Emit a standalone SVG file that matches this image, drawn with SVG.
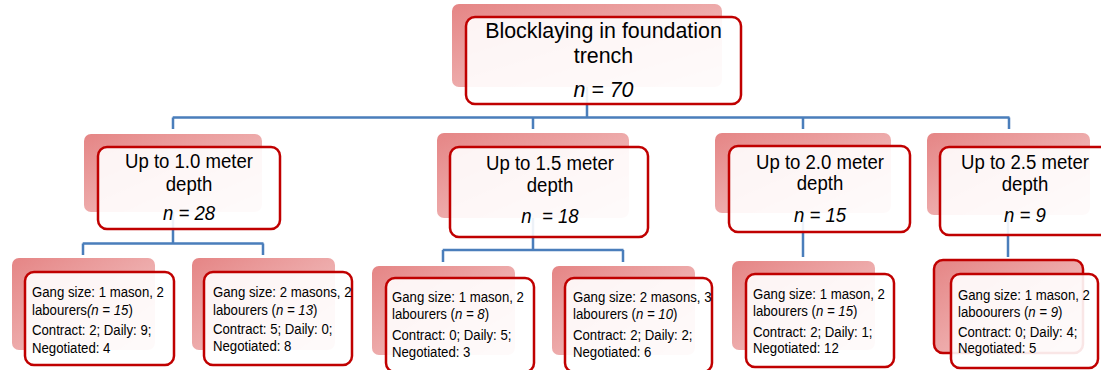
<svg xmlns="http://www.w3.org/2000/svg" width="1101" height="370" viewBox="0 0 1101 370">
  <defs>
    <linearGradient id="sh" x1="0" y1="0" x2="1" y2="1">
      <stop offset="0" stop-color="#E58585"/>
      <stop offset="1" stop-color="#F5CECE"/>
    </linearGradient>
  </defs>
  <style>
    .shadow { fill: url(#sh); }
    .front { fill: #FFFFFF; fill-opacity: 0.9; stroke: #C00000; stroke-width: 2.5; }
    .backred { fill: url(#sh); stroke: #C00000; stroke-width: 2.5; }
    .conn { fill: none; stroke: #4A7EBB; stroke-width: 2.5; }
    text { font-family: "Liberation Sans", Arial, sans-serif; fill: #000000; }
    .t1 { font-size: 21.4px; text-anchor: middle; }
    .t2 { font-size: 21px; text-anchor: middle; }
    .t3 { font-size: 15px; }
    .it { font-style: italic; }
  </style>
  <rect width="1101" height="370" fill="#FFFFFF"/>

  <g id="connectors">
    <path class="conn" d="M587 87 V117.5 M172.7 117.5 H1009.5 M173 117.5 V129 M533 117.5 V129 M803 117.5 V129 M1009 117.5 V129"/>
    <path class="conn" d="M173 212 V243.5 M82.7 243.5 H263.5 M83 243.5 V255 M263 243.5 V255"/>
    <path class="conn" d="M533 218 V250 M442.7 250 H623.5 M443 250 V262 M623 250 V262"/>
    <path class="conn" d="M803 213 V257"/>
    <path class="conn" d="M1008 215 V257"/>
  </g>

  <g id="node-root">
    <rect class="shadow" x="452" y="4" width="270" height="83" rx="7"/>
    <rect class="front" x="466" y="17" width="275" height="87" rx="9"/>
    <text class="t1" x="603.5" y="38">Blocklaying in foundation</text>
    <text class="t1" x="603.5" y="63">trench</text>
    <text class="t1 it" x="603.5" y="97">n = 70</text>
  </g>

  <g id="node-d10">
    <rect class="shadow" x="84" y="134" width="178" height="78" rx="7"/>
    <rect class="front" x="98" y="147" width="182" height="82" rx="9"/>
    <g transform="translate(189,0) scale(0.885,1)">
      <text class="t2" x="0" y="168">Up to 1.0 meter</text>
      <text class="t2" x="0" y="191">depth</text>
      <text class="t2 it" x="0" y="220">n = 28</text>
    </g>
  </g>

  <g id="node-d15">
    <rect class="shadow" x="437" y="133" width="192" height="85" rx="7"/>
    <rect class="front" x="450" y="147" width="198" height="90" rx="9"/>
    <g transform="translate(550,0) scale(0.885,1)">
      <text class="t2" x="0" y="170">Up to 1.5 meter</text>
      <text class="t2" x="0" y="192">depth</text>
      <text class="t2 it" x="0" y="223" xml:space="preserve">n  = 18</text>
    </g>
  </g>

  <g id="node-d20">
    <rect class="shadow" x="715" y="133" width="176" height="80" rx="7"/>
    <rect class="front" x="729" y="146" width="181" height="86" rx="9"/>
    <g transform="translate(820,0) scale(0.885,1)">
      <text class="t2" x="0" y="169">Up to 2.0 meter</text>
      <text class="t2" x="0" y="190">depth</text>
      <text class="t2 it" x="0" y="222">n = 15</text>
    </g>
  </g>

  <g id="node-d25">
    <rect class="shadow" x="927" y="133" width="163" height="82" rx="7"/>
    <rect class="front" x="940" y="147" width="172" height="88" rx="9"/>
    <g transform="translate(1025,0) scale(0.885,1)">
      <text class="t2" x="0" y="169">Up to 2.5 meter</text>
      <text class="t2" x="0" y="191">depth</text>
      <text class="t2 it" x="0" y="222">n = 9</text>
    </g>
  </g>

  <g id="node-a">
    <rect class="shadow" x="12" y="258" width="143" height="92" rx="7"/>
    <rect class="front" x="25" y="272" width="149" height="93" rx="9"/>
    <g transform="translate(32,0) scale(0.88,1)">
      <text class="t3" x="0" y="297">Gang size: 1 mason, 2</text>
      <text class="t3" x="0" y="315">labourers<tspan class="it">(n = 15</tspan>)</text>
      <text class="t3" x="0" y="335">Contract: 2; Daily: 9;</text>
      <text class="t3" x="0" y="353">Negotiated: 4</text>
    </g>
  </g>

  <g id="node-b">
    <rect class="shadow" x="192" y="258" width="143" height="92" rx="7"/>
    <rect class="front" x="204" y="272" width="148" height="93" rx="9"/>
    <g transform="translate(213,0) scale(0.88,1)">
      <text class="t3" x="0" y="297">Gang size: 2 masons, 2</text>
      <text class="t3" x="0" y="315">labourers (<tspan class="it">n = 13</tspan>)</text>
      <text class="t3" x="0" y="334">Contract: 5; Daily: 0;</text>
      <text class="t3" x="0" y="351">Negotiated: 8</text>
    </g>
  </g>

  <g id="node-c">
    <rect class="shadow" x="372" y="266" width="143" height="89" rx="7"/>
    <rect class="front" x="386" y="278" width="148" height="94" rx="9"/>
    <g transform="translate(392,0) scale(0.88,1)">
      <text class="t3" x="0" y="302">Gang size: 1 mason, 2</text>
      <text class="t3" x="0" y="319">labourers (<tspan class="it">n = 8</tspan>)</text>
      <text class="t3" x="0" y="340">Contract: 0; Daily: 5;</text>
      <text class="t3" x="0" y="357">Negotiated: 3</text>
    </g>
  </g>

  <g id="node-d">
    <rect class="shadow" x="552" y="266" width="143" height="89" rx="7"/>
    <rect class="front" x="565" y="278" width="147" height="94" rx="9"/>
    <g transform="translate(573,0) scale(0.88,1)">
      <text class="t3" x="0" y="302">Gang size: 2 masons, 3</text>
      <text class="t3" x="0" y="319">labourers (<tspan class="it">n = 10</tspan>)</text>
      <text class="t3" x="0" y="340">Contract: 2; Daily: 2;</text>
      <text class="t3" x="0" y="357">Negotiated: 6</text>
    </g>
  </g>

  <g id="node-e">
    <rect class="shadow" x="732" y="261" width="143" height="89" rx="7"/>
    <rect class="front" x="746" y="274" width="148" height="93" rx="9"/>
    <g transform="translate(753,0) scale(0.88,1)">
      <text class="t3" x="0" y="299">Gang size: 1 mason, 2</text>
      <text class="t3" x="0" y="316">labourers (<tspan class="it">n = 15</tspan>)</text>
      <text class="t3" x="0" y="337">Contract: 2; Daily: 1;</text>
      <text class="t3" x="0" y="353">Negotiated: 12</text>
    </g>
  </g>

  <g id="node-f">
    <rect class="backred" x="934" y="260" width="149" height="93" rx="9"/>
    <rect class="front" x="951" y="274" width="147" height="94" rx="9"/>
    <g transform="translate(958,0) scale(0.88,1)">
      <text class="t3" x="0" y="300">Gang size: 1 mason, 2</text>
      <text class="t3" x="0" y="317">laboourers (<tspan class="it">n = 9</tspan>)</text>
      <text class="t3" x="0" y="337">Contract: 0; Daily: 4;</text>
      <text class="t3" x="0" y="353">Negotiated: 5</text>
    </g>
  </g>
</svg>
